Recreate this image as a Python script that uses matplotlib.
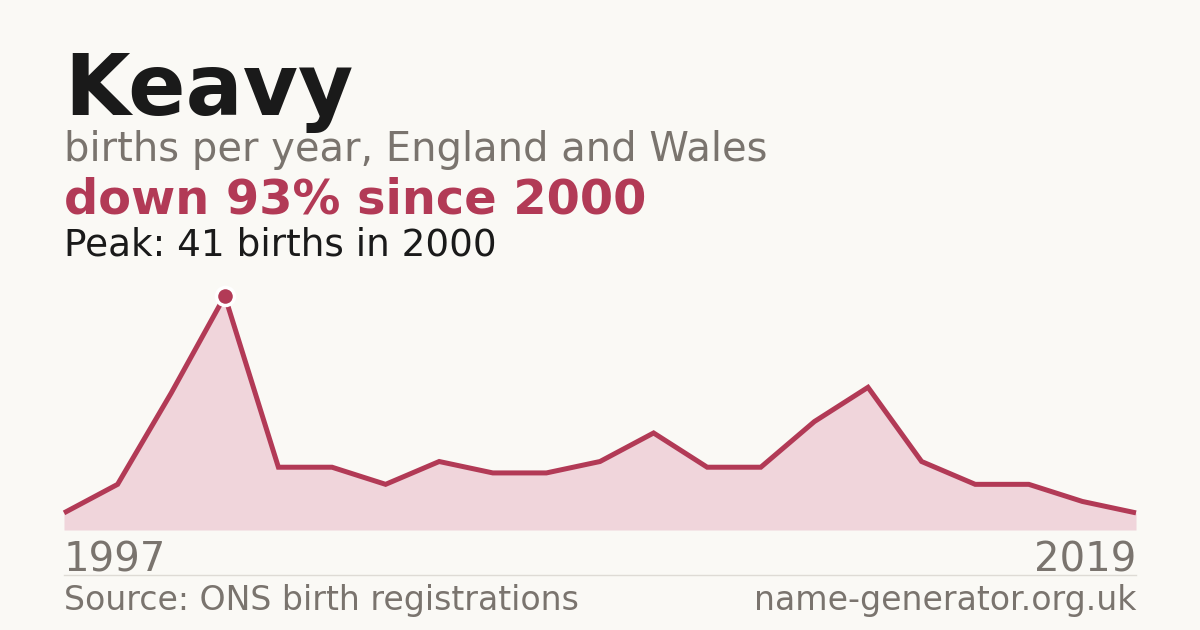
import matplotlib
matplotlib.use("Agg")
import matplotlib.pyplot as plt

# births per year (years with too few births are not published, so points are spaced by index)
years = [1997, 1998, 1999, 2000, 2001, 2002, 2003, 2004, 2005, 2006, 2007,
         2008, 2009, 2010, 2011, 2012, 2013, 2014, 2015, 2016, 2019]
births = [3, 8, 24, 41, 11, 11, 8, 12, 10, 10, 12, 17, 11, 11, 19, 25, 12, 8, 8, 5, 3]

name = "Keavy"
peak_year = 2000
peak_value = 41

BG = "#faf9f5"
RED = "#b23a56"
FILL = "#f0d5db"
GREY = "#7a746e"
DARK = "#1a1a1a"

W, H = 1200, 630


def main():
    fig = plt.figure(figsize=(W / 100, H / 100), dpi=100, facecolor=BG)

    def fy(px):
        return 1 - px / H

    fig.text(64 / W, fy(115), name, fontsize=61, fontweight="bold", color=DARK, va="baseline")
    fig.text(64 / W, fy(161), "births per year, England and Wales", fontsize=28.8, color=GREY,
             va="baseline")
    fig.text(64 / W, fy(214), "down 93% since 2000", fontsize=34.5, fontweight="bold", color=RED,
             va="baseline")
    fig.text(64 / W, fy(255), f"Peak: {peak_value} births in {peak_year}", fontsize=26.9,
             color=DARK, va="baseline")

    left, right = 64 / W, 1136 / W
    bottom, top = fy(530), fy(296)
    ax = fig.add_axes([left, bottom, right - left, top - bottom])
    ax.patch.set_alpha(0)
    xs = list(range(len(births)))
    ax.fill_between(xs, births, 0, color=FILL, lw=0)
    ax.plot(xs, births, color=RED, lw=3.6, solid_joinstyle="miter", solid_capstyle="butt",
            clip_on=False)
    pi = years.index(peak_year)
    ax.plot([xs[pi]], [births[pi]], "o", ms=13, color=RED, mec="white", mew=2.5, clip_on=False,
            zorder=5)
    ax.set_xlim(0, len(births) - 1)
    ax.set_ylim(0, peak_value)
    ax.axis("off")

    fig.text(64 / W, fy(571), str(years[0]), fontsize=28.9, color=GREY, va="baseline")
    fig.text(1136 / W, fy(571), str(years[-1]), fontsize=28.9, color=GREY, va="baseline",
             ha="right")
    fig.add_artist(plt.Line2D([left, right], [fy(574.5), fy(574.5)], color="#dedbd5", lw=1))
    fig.text(64 / W, fy(610), "Source: ONS birth registrations", fontsize=23.9, color=GREY,
             va="baseline")
    fig.text(1136 / W, fy(610), "name-generator.org.uk", fontsize=23.9, color=GREY, va="baseline",
             ha="right")

    fig.savefig("out.png", dpi=100, facecolor=BG)


if __name__ == "__main__":
    main()
